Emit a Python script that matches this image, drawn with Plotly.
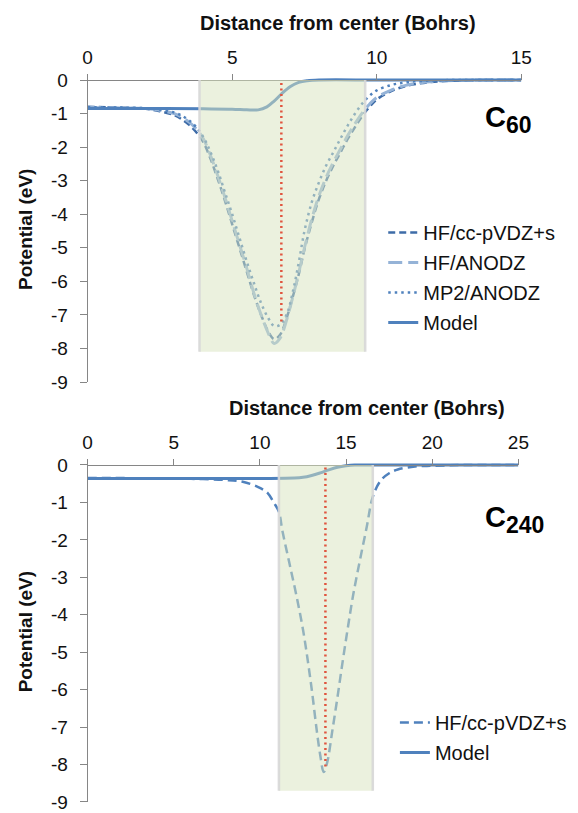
import plotly.graph_objects as go

W, H = 578, 813

# ---------------- C60 potentials (Bohr, eV) ----------------
r_c60 = [0, 1, 2, 2.5, 3, 3.25, 3.5, 3.75, 4, 4.25, 4.5, 4.75, 5, 5.25, 5.5, 5.75,
         6, 6.25, 6.45, 6.65, 6.9, 7.1, 7.3, 7.5, 7.75, 8, 8.25, 8.5, 8.75, 9,
         9.25, 9.5, 9.75, 10, 10.5, 11, 11.5, 12, 13, 14, 15]
hf_ccpvdz_c60 = [-0.8, -0.82, -0.86, -0.93, -1.05, -1.17, -1.33, -1.55, -1.85, -2.35,
                 -2.95, -3.6, -4.3, -5.0, -5.7, -6.4, -7.0, -7.5, -7.72, -7.6, -7.05,
                 -6.45, -5.8, -5.05, -4.25, -3.55, -3.0, -2.55, -2.15, -1.75, -1.4,
                 -1.07, -0.8, -0.58, -0.33, -0.18, -0.1, -0.05, -0.01, 0, 0]
hf_anodz_c60 = [-0.82, -0.83, -0.85, -0.9, -1.0, -1.1, -1.25, -1.45, -1.75, -2.25,
                -2.85, -3.5, -4.2, -4.9, -5.6, -6.35, -7.0, -7.55, -7.85, -7.7, -7.1,
                -6.45, -5.75, -5.0, -4.15, -3.45, -2.9, -2.45, -2.05, -1.65, -1.3,
                -0.98, -0.72, -0.52, -0.3, -0.16, -0.08, -0.04, -0.01, 0, 0]
mp2_anodz_c60 = [-0.81, -0.82, -0.84, -0.88, -0.97, -1.06, -1.2, -1.4, -1.7, -2.15,
                 -2.7, -3.35, -4.0, -4.7, -5.4, -6.05, -6.65, -7.1, -7.33, -7.3, -6.95,
                 -6.3, -5.45, -4.5, -3.65, -3.05, -2.55, -2.15, -1.74, -1.35, -1.0,
                 -0.7, -0.47, -0.31, -0.15, -0.07, -0.03, -0.01, 0, 0, 0]
r_model_c60 = [0, 2, 4, 5, 5.5, 5.9, 6.2, 6.45, 6.7, 7.0, 7.3, 7.6, 8, 10, 12, 15]
model_c60 = [-0.85, -0.85, -0.86, -0.87, -0.89, -0.89, -0.8, -0.63, -0.42, -0.2,
             -0.07, -0.02, 0, 0, 0, 0]

# ---------------- C240 potentials ----------------
r_c240 = [0, 2, 4, 6, 8, 9, 9.9, 10.45, 10.8, 11.1, 11.3, 11.7, 12.1, 12.5, 12.8,
          13.05, 13.3, 13.5, 13.7, 13.9, 14.2, 14.5, 14.8, 15.1, 15.4, 15.8, 16.2,
          16.55, 17, 17.5, 18, 19, 20, 22, 25]
hf_ccpvdz_c240 = [-0.35, -0.35, -0.36, -0.37, -0.4, -0.45, -0.59, -0.75, -1.0, -1.25,
                  -1.75, -2.6, -3.45, -4.4, -5.3, -6.15, -7.1, -7.75, -8.2, -7.95,
                  -7.1, -6.2, -5.25, -4.35, -3.5, -2.55, -1.65, -0.85, -0.42, -0.22,
                  -0.12, -0.04, -0.02, 0, 0]
r_model_c240 = [0, 5, 10, 12, 12.5, 13, 13.5, 14, 14.5, 15, 15.5, 17, 20, 25]
model_c240 = [-0.36, -0.36, -0.36, -0.35, -0.33, -0.28, -0.21, -0.13, -0.06, -0.02,
              0, 0, 0, 0]

# cage radius and shell extent (Bohr), shell depth (eV)
cage_c60 = {"radius": 6.7, "inner": 3.87, "outer": 9.6, "depth": -8.1, "mark": -7.2}
cage_c240 = {"radius": 13.8, "inner": 11.1, "outer": 16.55, "depth": -8.7, "mark": -8.05}

y_ticks = [0, -1, -2, -3, -4, -5, -6, -7, -8, -9]
y_ticktext = ["0", "-1", "-2", "-3", "-4", "-5", "-6", "-7", "-8", "-9"]
x_ticks_c60 = [0, 5, 10, 15]
x_ticks_c240 = [0, 5, 10, 15, 20, 25]

FONT = "Liberation Sans, Arial, sans-serif"
AXIS = "#868686"
BLUE = "#4F81BD"
DARK_BLUE = "#3E6CA8"
LIGHT_BLUE = "#95B3D7"
RED = "#E0553F"


def fx(p):
    return p / W


def fy(p):
    return 1 - p / H


fig = go.Figure()

fig.add_trace(go.Scatter(x=r_c60, y=hf_ccpvdz_c60, name="HF/cc-pVDZ+s", mode="lines",
                         line=dict(color=DARK_BLUE, width=2.5, dash="7px,4px", shape="spline"),
                         xaxis="x", yaxis="y", legend="legend", legendgroup="a"))
fig.add_trace(go.Scatter(x=r_c60, y=hf_anodz_c60, name="HF/ANODZ", mode="lines",
                         line=dict(color=LIGHT_BLUE, width=3, dash="14px,6px", shape="spline"),
                         xaxis="x", yaxis="y", legend="legend", legendgroup="b"))
fig.add_trace(go.Scatter(x=r_c60, y=mp2_anodz_c60, name="MP2/ANODZ", mode="lines",
                         line=dict(color=BLUE, width=2.5, dash="2.5px,4px", shape="spline"),
                         xaxis="x", yaxis="y", legend="legend", legendgroup="c"))
fig.add_trace(go.Scatter(x=r_model_c60, y=model_c60, name="Model", mode="lines",
                         line=dict(color=BLUE, width=3, shape="spline"),
                         xaxis="x", yaxis="y", legend="legend", legendgroup="d"))

fig.add_trace(go.Scatter(x=r_c240, y=hf_ccpvdz_c240, name="HF/cc-pVDZ+s", mode="lines",
                         line=dict(color=BLUE, width=2.5, dash="9px,5px", shape="spline"),
                         xaxis="x2", yaxis="y2", legend="legend2", legendgroup="e"))
fig.add_trace(go.Scatter(x=r_model_c240, y=model_c240, name="Model", mode="lines",
                         line=dict(color=BLUE, width=3, shape="spline"),
                         xaxis="x2", yaxis="y2", legend="legend2", legendgroup="f"))

# shaded cage shell, its edges and the cage radius
shapes = []
for cage, xr, yr in [(cage_c60, "x", "y"), (cage_c240, "x2", "y2")]:
    shapes.append(dict(type="rect", xref=xr, yref=yr, x0=cage["inner"], x1=cage["outer"],
                       y0=cage["depth"], y1=0, fillcolor="rgba(215,228,189,0.5)",
                       line=dict(width=0), layer="above"))
    for edge in (cage["inner"], cage["outer"]):
        shapes.append(dict(type="line", xref=xr, yref=yr, x0=edge, x1=edge,
                           y0=cage["depth"], y1=0,
                           line=dict(color="rgba(215,215,215,0.9)", width=2.5), layer="above"))
    shapes.append(dict(type="line", xref=xr, yref=yr, x0=cage["radius"], x1=cage["radius"],
                       y0=cage["mark"], y1=0,
                       line=dict(color=RED, width=2.5, dash="2px,3.5px"), layer="above"))

top_px_per_unit = (382 - 80) / 9
bot_px_per_unit = (802 - 465) / 9
pad = 0.1

common_x = dict(side="top", anchor="free", showgrid=False, zeroline=False,
                showline=True, linecolor=AXIS, linewidth=1, ticks="outside",
                ticklen=6, tickcolor=AXIS, ticklabelstandoff=2,
                tickfont=dict(family=FONT, size=19, color="#111"))
common_y = dict(showgrid=False, zeroline=False, showline=True, linecolor=AXIS,
                linewidth=1, ticks="outside", ticklen=7, tickcolor=AXIS,
                tickvals=y_ticks, ticktext=y_ticktext, ticklabelstandoff=8,
                tickfont=dict(family=FONT, size=19, color="#111"), automargin=False,
                title=dict(text="<b>Potential (eV)</b>", standoff=13,
                           font=dict(family=FONT, size=19, color="#111")))

fig.update_layout(
    width=W, height=H, margin=dict(l=0, r=0, t=0, b=0),
    paper_bgcolor="white", plot_bgcolor="white",
    font=dict(family=FONT, color="#111"),
    xaxis=dict(domain=[fx(85), fx(531)], range=[0, 15], tickvals=x_ticks_c60,
               position=fy(80), **common_x),
    yaxis=dict(domain=[fy(382), fy(80 - pad * top_px_per_unit)], range=[-9, pad],
               anchor="x", **common_y),
    xaxis2=dict(domain=[fx(85), fx(528)], range=[0, 25], tickvals=x_ticks_c240,
                position=fy(465), **common_x),
    yaxis2=dict(domain=[fy(802), fy(465 - pad * bot_px_per_unit)], range=[-9, pad],
                anchor="x2", **common_y),
    legend=dict(x=fx(389), y=fy(213), xanchor="left", yanchor="top",
                font=dict(family=FONT, size=20, color="#111"),
                bgcolor="rgba(0,0,0,0)", tracegroupgap=1),
    legend2=dict(x=fx(401), y=fy(703), xanchor="left", yanchor="top",
                 font=dict(family=FONT, size=20, color="#111"),
                 bgcolor="rgba(0,0,0,0)", tracegroupgap=1),
    shapes=shapes,
    showlegend=True,
)

annotations = [
    dict(text="<b>Distance from center (Bohrs)</b>", x=fx(342), y=fy(23)),
    dict(text="<b>Distance from center (Bohrs)</b>", x=fx(372), y=fy(408)),
]
for a in annotations:
    a.update(xref="paper", yref="paper", showarrow=False, xanchor="center",
             yanchor="middle", font=dict(family=FONT, size=20, color="#111"))
    fig.add_annotation(**a)

for base, sub, ypx in [("C", "60", 119), ("C", "240", 519)]:
    label = "<b>" + base + "<sub><span style='font-size:23px'>" + sub + "</span></sub></b>"
    fig.add_annotation(text=label, x=fx(492), y=fy(ypx), xref="paper",
                       yref="paper", showarrow=False, xanchor="left", yanchor="middle",
                       font=dict(family=FONT, size=29, color="#000"))

fig.write_html("out.html")
